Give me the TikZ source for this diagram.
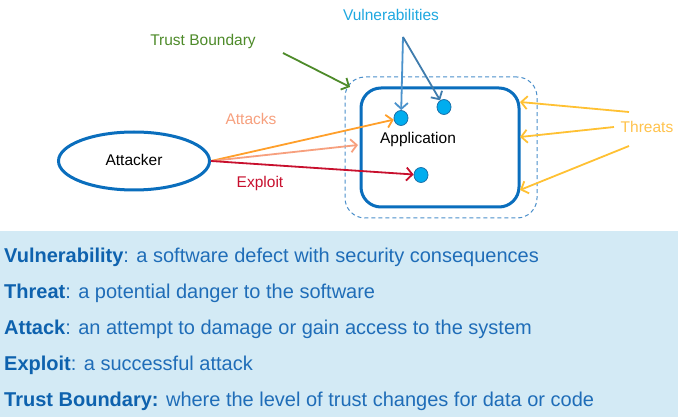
\documentclass[tikz,border=0pt]{standalone}
\usepackage{fontspec}
\setmainfont{Liberation Sans}
\usetikzlibrary{arrows.meta,shapes.geometric}
\definecolor{tbgreen}{HTML}{4E8B2A}
\definecolor{vulntext}{HTML}{1FA8E0}
\definecolor{vulnarrow}{HTML}{4A92CC}
\definecolor{dotfill}{HTML}{00ADEF}
\definecolor{dotline}{HTML}{1A6FA8}
\definecolor{boxblue}{HTML}{0A6EBD}
\definecolor{dashblue}{HTML}{4A8FCB}
\definecolor{attorange}{HTML}{FF9F2A}
\definecolor{salmon}{HTML}{F7A07E}
\definecolor{exred}{HTML}{C8102E}
\definecolor{threattext}{HTML}{FFC34D}
\definecolor{threatarrow}{HTML}{FFC133}
\definecolor{panelbg}{HTML}{D3EAF5}
\definecolor{deftext}{HTML}{1F6DB8}
\definecolor{defbold}{HTML}{0E62AE}
\tikzset{
  lbl/.style={font=\fontsize{15.5}{18}\selectfont, inner sep=0pt},
  conn/.style={line width=1.8pt, -{Straight Barb[length=6pt,width=13pt,line width=1.8pt]}},
  vdot/.style={ellipse, draw=dotline, line width=0.8pt, fill=dotfill, minimum width=14pt, minimum height=15pt, inner sep=0pt},
  deftxt/.style={anchor=base west, inner sep=0pt, text=deftext, font=\fontsize{20}{24}\selectfont},
}
\begin{document}
\begin{tikzpicture}[x=1pt,y=-1pt]
\useasboundingbox (0,0) rectangle (678,417);
\fill[white] (0,0) rectangle (678,417);
\fill[panelbg] (0,231) rectangle (678,417);
% boundary and application box
\node[draw=dashblue, dashed, dash pattern=on 4pt off 3pt, line width=1pt, rounded corners=20pt, minimum width=192pt, minimum height=141pt, inner sep=0pt] (bound) at (441,147.5) {};
\node[draw=boxblue, line width=3pt, rounded corners=20pt, minimum width=158pt, minimum height=119pt, inner sep=0pt] (app) at (440,147.5) {};
\node[lbl] (applbl) at (418,139) {Application};
% dots
\node[vdot] (d1) at (401,118) {};
\node[vdot] (d2) at (444,107) {};
\node[vdot] (d3) at (421,175) {};
% attacker
\node[ellipse, draw=boxblue, line width=3pt, minimum width=151pt, minimum height=58pt, inner sep=0pt] (att) at (134,161) {};
\node[lbl] (attlbl) at (134,160) {Attacker};
% labels
\node[lbl, text=tbgreen] (tblbl) at (203,41) {Trust Boundary};
\node[lbl, text=vulntext] (vlbl) at (391,15) {Vulnerabilities};
\node[lbl, text=salmon] (alabel) at (251,119) {Attacks};
\node[lbl, text=exred] (elabel) at (260,183) {Exploit};
\node[lbl, text=threattext] (tlbl) at (647,127) {Threats};
% coordinates
\coordinate (tbs) at (283,53);
\coordinate (tbe) at (350,87);
\coordinate (vap) at (403,37);
\coordinate (sal) at (358,145);
\coordinate (t1s) at (629,112);
\coordinate (t1e) at (520,102);
\coordinate (t2s) at (614,127);
\coordinate (t2e) at (520,137);
\coordinate (t3s) at (629,146);
\coordinate (t3e) at (520,190);
% connectors
\draw[conn, draw=tbgreen] (tbs) -- (tbe);
\draw[conn, draw=vulnarrow] (vap) -- (d1);
\draw[conn, draw=vulnarrow!85!black] (vap) -- (d2);
\draw[conn, draw=attorange] (att.east) -- (d1);
\draw[conn, draw=salmon] (att.east) -- (sal);
\draw[conn, draw=exred] (att.east) -- (d3);
\draw[conn, draw=threatarrow] (t1s) -- (t1e);
\draw[conn, draw=threatarrow] (t2s) -- (t2e);
\draw[conn, draw=threatarrow] (t3s) -- (t3e);
% definitions
\node[deftxt] (l1) at (4,262) {\textcolor{defbold}{\textbf{Vulnerability}}: a software defect with security consequences};
\node[deftxt] (l2) at (4,298) {\textcolor{defbold}{\textbf{Threat}}: a potential danger to the software};
\node[deftxt] (l3) at (4,334) {\textcolor{defbold}{\textbf{Attack}}: an attempt to damage or gain access to the system};
\node[deftxt] (l4) at (4,370) {\textcolor{defbold}{\textbf{Exploit}}: a successful attack};
\node[deftxt] (l5) at (4,406) {\textcolor{defbold}{\textbf{Trust Boundary:}} where the level of trust changes for data or code};
\end{tikzpicture}
\end{document}
